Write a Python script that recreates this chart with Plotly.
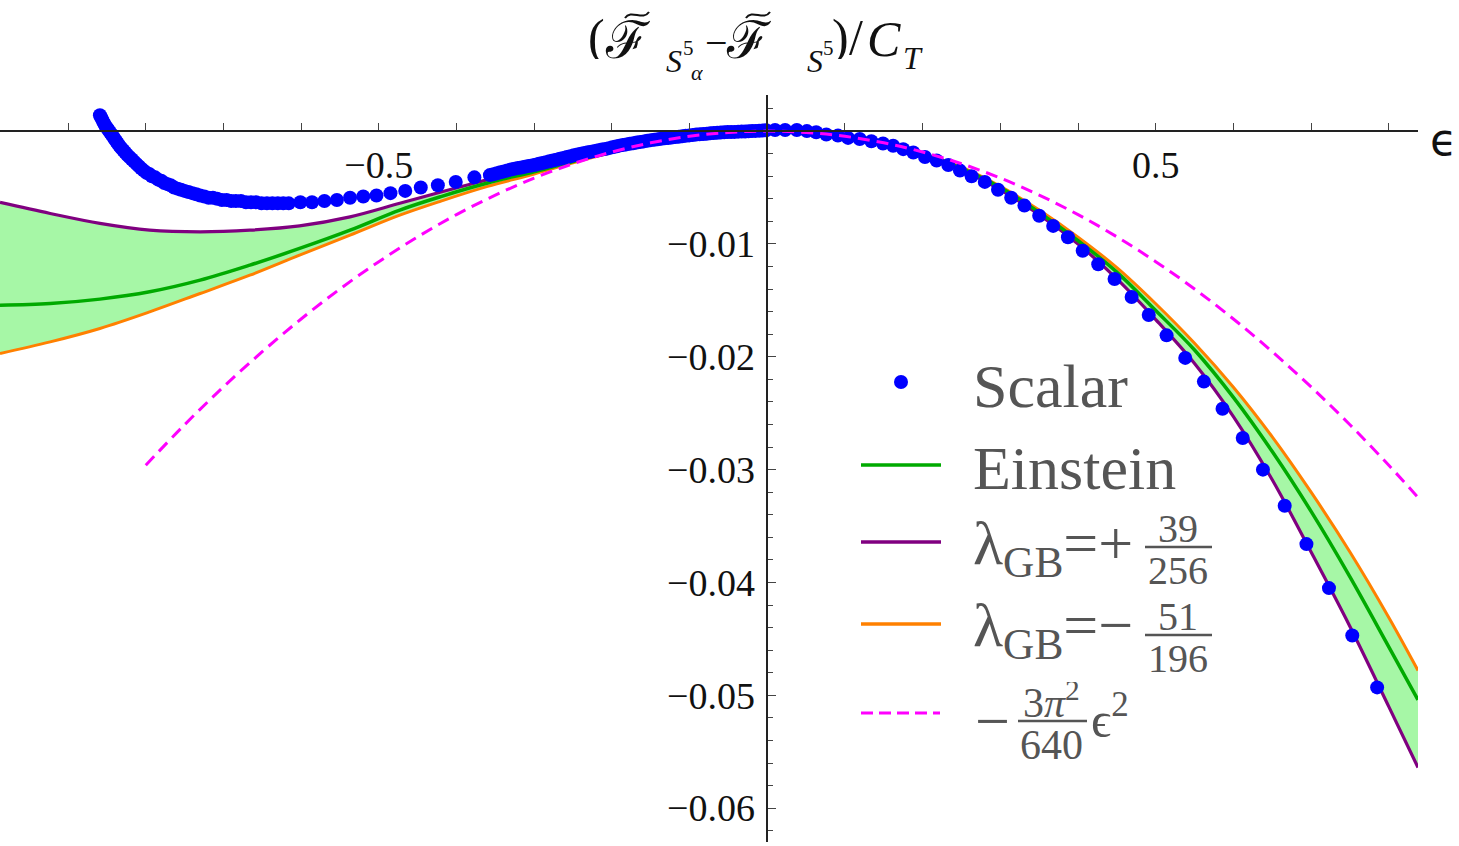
import plotly.graph_objects as go

# ---------------- data ----------------
scalar_eps = [-0.859, -0.8575, -0.856, -0.8545, -0.853, -0.8515, -0.850, -0.848, -0.846, -0.844,
              -0.842, -0.840, -0.838, -0.836, -0.834, -0.8315, -0.829, -0.8265, -0.824, -0.821,
              -0.818, -0.815, -0.812, -0.809, -0.806, -0.8025, -0.799, -0.7955, -0.792, -0.788,
              -0.784, -0.780, -0.776, -0.772, -0.768, -0.7635, -0.759, -0.7545, -0.750, -0.745,
              -0.740, -0.735, -0.730, -0.7245, -0.719, -0.7135, -0.708, -0.702, -0.696, -0.690,
              -0.684, -0.6775, -0.671, -0.6645, -0.658, -0.651, -0.644, -0.637, -0.630, -0.623,
              -0.616, -0.601, -0.586, -0.570, -0.554, -0.537, -0.520, -0.503, -0.485, -0.466,
              -0.446, -0.424, -0.401, -0.377,
              -0.3570, -0.3525, -0.3480, -0.3435, -0.3390, -0.3345, -0.3300, -0.3255, -0.3210, -0.3165,
              -0.3120, -0.3075, -0.3030, -0.2985, -0.2940, -0.2895, -0.2850, -0.2805, -0.2760, -0.2715,
              -0.2670, -0.2625, -0.2580, -0.2535, -0.2490, -0.2445, -0.2400, -0.2355, -0.2310, -0.2265,
              -0.2220, -0.2175, -0.2130, -0.2085, -0.2040, -0.1995, -0.1950, -0.1905, -0.1860, -0.1815,
              -0.1770, -0.1725, -0.1680, -0.1635, -0.1590, -0.1545, -0.1500, -0.1455, -0.1410, -0.1365,
              -0.1320, -0.1275, -0.1230, -0.1185, -0.1140, -0.1095, -0.1050, -0.1005, -0.0960, -0.0915,
              -0.0870, -0.0825, -0.0780, -0.0735, -0.0690, -0.0645, -0.0600, -0.0555, -0.0510, -0.0465,
              -0.0420, -0.0375, -0.0330, -0.0285, -0.0240, -0.0195, -0.0150, -0.0105, -0.0060, -0.0015,
              0.010, 0.023, 0.038, 0.051, 0.063, 0.076, 0.091, 0.104, 0.119, 0.134,
              0.149, 0.162, 0.175, 0.188, 0.203, 0.218, 0.233, 0.248, 0.263, 0.280,
              0.297, 0.314, 0.331, 0.350, 0.368, 0.387, 0.406, 0.426, 0.447, 0.469,
              0.491, 0.514, 0.538, 0.562, 0.586, 0.612, 0.638, 0.666, 0.694, 0.723,
              0.753, 0.785]
scalar_f = [0.0014, 0.0012, 0.0010, 0.0008, 0.0006, 0.0004, 0.0003, 0.0001, -0.0001, -0.0003,
            -0.0005, -0.0007, -0.0009, -0.0011, -0.0013, -0.0015, -0.0017, -0.0019, -0.0021, -0.0023,
            -0.0025, -0.0027, -0.0029, -0.0031, -0.0033, -0.0035, -0.0037, -0.0038, -0.0040, -0.0041,
            -0.0043, -0.0044, -0.0046, -0.0047, -0.0048, -0.0050, -0.0051, -0.0052, -0.0053, -0.0054,
            -0.0055, -0.0056, -0.0057, -0.0058, -0.0059, -0.0059, -0.0060, -0.0061, -0.0061, -0.0062,
            -0.0062, -0.0062, -0.0063, -0.0063, -0.0063, -0.0064, -0.0064, -0.0064, -0.0064, -0.0064,
            -0.0064, -0.0063, -0.0063, -0.0062, -0.0061, -0.0059, -0.0058, -0.0057, -0.0055, -0.0053,
            -0.0050, -0.0048, -0.0045, -0.0041,
            -0.00390, -0.00382, -0.00373, -0.00365, -0.00357, -0.00348, -0.00340, -0.00334, -0.00328, -0.00322,
            -0.00316, -0.00310, -0.00304, -0.00298, -0.00290, -0.00283, -0.00275, -0.00268, -0.00260, -0.00253,
            -0.00245, -0.00238, -0.00230, -0.00223, -0.00215, -0.00208, -0.00200, -0.00194, -0.00188, -0.00182,
            -0.00176, -0.00170, -0.00164, -0.00158, -0.00151, -0.00144, -0.00136, -0.00129, -0.00123, -0.00118,
            -0.00112, -0.00107, -0.00101, -0.00096, -0.00091, -0.00085, -0.00080, -0.00076, -0.00072, -0.00068,
            -0.00064, -0.00061, -0.00057, -0.00053, -0.00050, -0.00046, -0.00042, -0.00038, -0.00035, -0.00031,
            -0.00028, -0.00025, -0.00023, -0.00020, -0.00017, -0.00015, -0.00012, -0.00011, -0.00009, -0.00008,
            -0.00007, -0.00005, -0.00004, -0.00003, -0.00001, 0.00000, 0.00002, 0.00004, 0.00006, 0.00008,
            0.0001, 0.0001, 0.0001, 0.0000, -0.0001, -0.0003, -0.0004, -0.0006, -0.0007, -0.0009,
            -0.0011, -0.0013, -0.0016, -0.0019, -0.0023, -0.0026, -0.0030, -0.0035, -0.0040, -0.0045,
            -0.0052, -0.0059, -0.0066, -0.0075, -0.0084, -0.0094, -0.0106, -0.0118, -0.0131, -0.0147,
            -0.0163, -0.0181, -0.0201, -0.0222, -0.0246, -0.0272, -0.0300, -0.0332, -0.0366, -0.0405,
            -0.0447, -0.0493]

curve_eps = [-0.9876, -0.923, -0.859, -0.795, -0.730, -0.666, -0.602, -0.537, -0.473, -0.42,
             -0.36, -0.30, -0.25, -0.20, -0.15, -0.10, -0.05,
             0.0, 0.05, 0.10, 0.15, 0.20, 0.25, 0.30, 0.35, 0.40, 0.45,
             0.50, 0.55, 0.60, 0.65, 0.70, 0.75, 0.80, 0.8376]
einstein_f = [-0.01543, -0.01528, -0.01489, -0.01424, -0.01321, -0.01188, -0.0104, -0.00878, -0.0070, -0.0058,
              -0.0046, -0.0036, -0.0027, -0.0018, -0.0011, -0.0005, -0.00012,
              0.0, -0.00012, -0.0005, -0.0011, -0.0020, -0.0033, -0.0050, -0.0072, -0.0097, -0.0125,
              -0.0159, -0.0194, -0.0236, -0.0284, -0.0337, -0.0395, -0.0457, -0.0504]
gb_plus_f = [-0.00632, -0.0073, -0.00818, -0.00878, -0.00893, -0.00878, -0.0084, -0.0076, -0.0064, -0.0054,
             -0.0043, -0.0032, -0.0024, -0.0016, -0.0009, -0.0004, -0.0001,
             0.0, -0.0001, -0.0005, -0.0011, -0.0021, -0.0034, -0.0052, -0.0074, -0.0100, -0.0131,
             -0.0167, -0.0206, -0.0253, -0.0309, -0.0373, -0.0439, -0.0510, -0.0564]
gb_minus_f = [-0.01971, -0.01868, -0.01749, -0.01602, -0.01439, -0.01277, -0.01099, -0.00922, -0.00745, -0.0062,
              -0.0049, -0.0038, -0.0028, -0.0019, -0.0011, -0.0005, -0.00012,
              0.0, -0.00012, -0.0005, -0.0011, -0.0020, -0.0032, -0.0049, -0.0070, -0.0094, -0.0121,
              -0.0153, -0.0188, -0.0227, -0.0271, -0.0320, -0.0373, -0.0431, -0.0478]

quad_eps = [-0.80, -0.75, -0.70, -0.65, -0.60, -0.55, -0.50, -0.45, -0.40, -0.35,
            -0.30, -0.25, -0.20, -0.15, -0.10, -0.05, 0.0, 0.05, 0.10, 0.15,
            0.20, 0.25, 0.30, 0.35, 0.40, 0.45, 0.50, 0.55, 0.60, 0.65,
            0.70, 0.75, 0.80, 0.8376]
quad_f = [-0.02961, -0.02602, -0.02267, -0.01955, -0.01665, -0.01399, -0.01157, -0.00937, -0.00740, -0.00567,
          -0.00416, -0.00289, -0.00185, -0.00104, -0.00046, -0.00012, 0.0, -0.00012, -0.00046, -0.00104,
          -0.00185, -0.00289, -0.00416, -0.00567, -0.00740, -0.00937, -0.01157, -0.01399, -0.01665, -0.01955,
          -0.02267, -0.02602, -0.02961, -0.03246]

x_tick_vals = [-0.5, 0.5]
x_tick_text = ["\u22120.5", "0.5"]
x_minor_vals = [-0.9, -0.8, -0.7, -0.6, -0.4, -0.3, -0.2, -0.1, 0.1, 0.2, 0.3, 0.4, 0.6, 0.7, 0.8]
y_tick_vals = [-0.06, -0.05, -0.04, -0.03, -0.02, -0.01]
y_tick_text = ["\u22120.06", "\u22120.05", "\u22120.04", "\u22120.03", "\u22120.02", "\u22120.01"]
y_minor_vals = [-0.062, -0.058, -0.056, -0.054, -0.052, -0.048, -0.046, -0.044, -0.042, -0.038, -0.036,
                -0.034, -0.032, -0.028, -0.026, -0.024, -0.022, -0.018, -0.016, -0.014, -0.012, -0.008,
                -0.006, -0.004, -0.002, 0.002]

# ---------------- colours / geometry ----------------
BLUE = "#0000ff"
GREEN = "#00aa00"
PURPLE = "#800080"
ORANGE = "#ff8000"
MAGENTA = "#ff00ff"
FILL = "#a6f7a6"
TXT = "#555555"
SERIF = "Liberation Serif"

W, H = 1459, 846
PL, PR, PT, PB = 0, 1418, 95, 842
PW, PH = PR - PL, PB - PT
XR = [-0.9876, 0.8376]
YR = [-0.0630, 0.0032]


def P(px, py):
    return (px - PL) / PW, (PB - py) / PH


fig = go.Figure()
fig.add_trace(go.Scatter(x=curve_eps, y=gb_plus_f, mode="lines", line=dict(color=PURPLE, width=3.2, shape="spline"),
                         showlegend=False, hoverinfo="skip"))
fig.add_trace(go.Scatter(x=curve_eps, y=gb_minus_f, mode="lines", fill="tonexty", fillcolor=FILL,
                         line=dict(color=ORANGE, width=3, shape="spline"), showlegend=False, hoverinfo="skip"))
fig.add_trace(go.Scatter(x=curve_eps, y=einstein_f, mode="lines", line=dict(color=GREEN, width=3.5, shape="spline"),
                         showlegend=False))
fig.add_trace(go.Scatter(x=scalar_eps, y=scalar_f, mode="markers", marker=dict(color=BLUE, size=14),
                         showlegend=False))
fig.add_trace(go.Scatter(x=quad_eps, y=quad_f, mode="lines",
                         line=dict(color=MAGENTA, width=3, dash="12px,7px", shape="spline"), showlegend=False))

# axes crossing at the origin
x0_frac = (0 - XR[0]) / (XR[1] - XR[0])
y0_frac = (0 - YR[0]) / (YR[1] - YR[0])

fig.update_xaxes(range=XR, anchor="free", position=y0_frac, showline=True, linecolor="#222", linewidth=1.5,
                 showgrid=False, zeroline=False, tickmode="array", tickvals=x_tick_vals, ticktext=x_tick_text,
                 ticks="inside", ticklen=7, tickwidth=1, tickcolor="#444",
                 minor=dict(tickmode="array", tickvals=x_minor_vals, ticks="inside", ticklen=7, tickwidth=1,
                            tickcolor="#444", showgrid=False),
                 tickfont=dict(family=SERIF, size=38, color="#111"), ticklabelstandoff=1, automargin=False)
fig.update_yaxes(range=YR, anchor="free", position=x0_frac, showline=True, linecolor="#222", linewidth=1.5,
                 showgrid=False, zeroline=False, tickmode="array", tickvals=y_tick_vals, ticktext=y_tick_text,
                 ticks="inside", ticklen=8, tickwidth=1, tickcolor="#444",
                 minor=dict(tickmode="array", tickvals=y_minor_vals, ticks="inside", ticklen=5, tickwidth=1,
                            tickcolor="#444", showgrid=False),
                 tickfont=dict(family=SERIF, size=38, color="#111"), ticklabelstandoff=4, automargin=False)

annotations = []
shapes = []


def text(px, py, s, size, color=TXT, anchor="left", family=SERIF, height=None):
    ax, ay = P(px, py)
    a = dict(xref="paper", yref="paper", x=ax, y=ay, xanchor=anchor, yanchor="middle",
             showarrow=False, text=s, font=dict(family=family, size=size, color=color), borderpad=0)
    if height is not None:
        a["height"] = height
    annotations.append(a)


def hline(px0, px1, py, color, width, dash="solid"):
    a0, b0 = P(px0, py)
    a1, b1 = P(px1, py)
    shapes.append(dict(type="line", xref="paper", yref="paper", x0=a0, y0=b0, x1=a1, y1=b1,
                       line=dict(color=color, width=width, dash=dash)))


def tilde(cx, cy, color):
    pts = [P(cx - 12, cy + 3), P(cx - 6, cy - 6), P(cx + 6, cy + 6), P(cx + 12, cy - 3)]
    path = "M {:.5f},{:.5f} C {:.5f},{:.5f} {:.5f},{:.5f} {:.5f},{:.5f}".format(
        pts[0][0], pts[0][1], pts[1][0], pts[1][1], pts[2][0], pts[2][1], pts[3][0], pts[3][1])
    shapes.append(dict(type="path", xref="paper", yref="paper", path=path, line=dict(color=color, width=2)))


# ---- title, assembled piece by piece ----
TC = "#111111"
title_parts = [
    ("(", 596, 37, 50, False, 44),
    ("\u2131", 628, 40, 52, False, 40),
    ("S", 674, 61, 32, True, 24),
    ("5", 688, 48, 21, False, 14),
    ("\u03b1", 697, 72, 22, True, 18),
    ("\u2212", 716, 42, 40, False, 20),
    ("\u2131", 749, 40, 52, False, 40),
    ("S", 815, 61, 32, True, 24),
    ("5", 828, 48, 21, False, 14),
    (")", 840, 37, 50, False, 44),
    ("/", 856, 37, 50, False, 44),
    ("C", 884, 39, 50, True, 36),
    ("T", 913, 58, 32, True, 22),
]
for s, cx, cy, size, ital, hh in title_parts:
    text(cx, cy, "<i>%s</i>" % s if ital else s, size, TC, "center", height=hh)
tilde(637, 15, TC)
tilde(758, 15, TC)

# epsilon axis label
text(1443, 140, "\u03f5", 44, TC, "center", family="DejaVu Sans")

# ---- manual legend ----
LEG_FS = 62
FR_FS = 40


def frac(cx, num, den, ybar, x0, x1):
    text(cx, ybar - 19, num, FR_FS, anchor="center", height=28)
    text(cx, ybar + 23, den, FR_FS, anchor="center", height=28)
    hline(x0, x1, ybar, TXT, 2.5)


# Scalar
dx, dy = P(901, 382)
shapes.append(dict(type="circle", xref="paper", yref="paper",
                   x0=dx - 7 / PW, x1=dx + 7 / PW, y0=dy - 7 / PH, y1=dy + 7 / PH,
                   fillcolor=BLUE, line=dict(width=0)))
text(972, 386, "Scalar", LEG_FS)
# Einstein
hline(861, 941, 465, GREEN, 3.5)
text(972, 468, "Einstein", LEG_FS)
# lambda +
hline(861, 941, 542, PURPLE, 3.5)
text(972, 547, "\u03bb<sub>GB</sub>=+", LEG_FS)
frac(1178, "39", "256", 547, 1145, 1212)
# lambda -
hline(861, 941, 624, ORANGE, 3.5)
text(972, 629, "\u03bb<sub>GB</sub>=\u2212", LEG_FS)
frac(1178, "51", "196", 635, 1145, 1212)
# quadratic
hline(861, 940, 713, MAGENTA, 3, "12px,6px")
text(992, 721, "\u2212", LEG_FS, anchor="center", height=20)
text(1051, 700, "3<i>\u03c0</i><sup>2</sup>", 42, anchor="center", height=36)
text(1051, 745, "640", 42, anchor="center", height=28)
hline(1018, 1087, 721, TXT, 2.5)
text(1090, 716, "\u03f5<sup>2</sup>", 50)

fig.update_layout(width=W, height=H, autosize=False, margin=dict(l=PL, r=W - PR, t=PT, b=H - PB, pad=0),
                  plot_bgcolor="white", paper_bgcolor="white", showlegend=False,
                  annotations=annotations, shapes=shapes)

fig.write_html("out.html")
